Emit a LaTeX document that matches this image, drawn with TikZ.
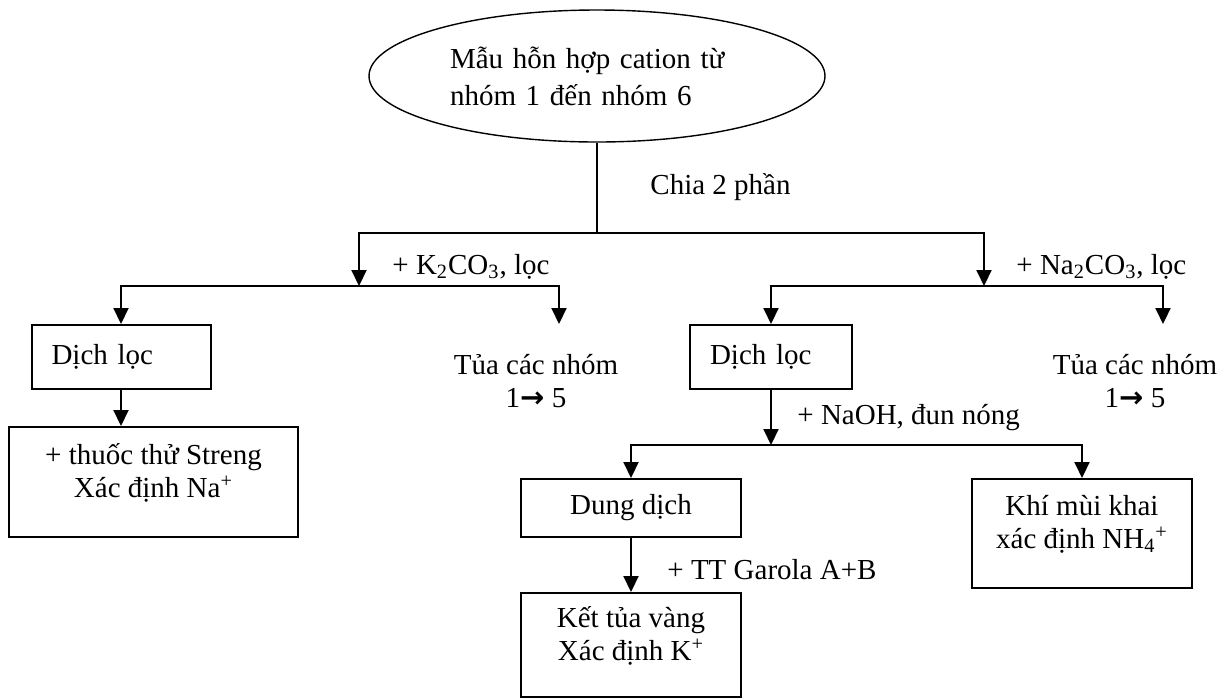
\documentclass[tikz,border=0pt]{standalone}
\usepackage{fontspec}
\setmainfont{Liberation Serif}
\newfontfamily\arrowfont{DejaVu Sans}
\usetikzlibrary{arrows.meta,shapes.geometric}

\begin{document}
\begin{tikzpicture}[
        x=0.5pt, y=-0.5pt,
        every node/.style = {font=\fontsize{14.5}{16.5}\selectfont},
        my box/.style = {
            draw,
            line width=1pt,
            align=center,
            inner sep=0pt},
        my label/.style = {anchor=west, inner sep=0pt},
        my arrow/.style = {
            line width=1pt,
            -{Triangle[length=8pt,width=7.5pt]}}
    ]
    \useasboundingbox (0,0) rectangle (1225,698);
    \node[draw, ellipse, line width=0.7pt, minimum width=228pt, minimum height=66pt,
        text width=147pt, align=left, font=\fontsize{14.5}{18.5}\selectfont]
        (mau) at (597,76) {Mẫu hỗn hợp cation từ\\nhóm 1 đến nhóm 6};
    \coordinate (c0) at (597,233);
    \coordinate (s1) at (359,286);
    \coordinate (s2) at (984,286);
    \draw[line width=1pt] (mau.south) -- (c0);
    \draw[my arrow] (c0) -| (s1);
    \draw[my arrow] (c0) -| (s2);
    \node[my label] (chia) at (650,187) {Chia 2 phần};

    \node[my box, minimum width=89.5pt, minimum height=32pt,
        text width=69.5pt, inner xsep=10pt, align=left] (loc1) at (121,357) {Dịch lọc};
    \coordinate (t1) at (559,324);
    \draw[my arrow] (s1) -| (loc1.north);
    \draw[my arrow] (s1) -| (t1);
    \node[my label] (k2co3) at (392,267) {+ K\textsubscript{2}CO\textsubscript{3}, lọc};
    \node[align=center] (tua1) at (536,381.5) {Tủa các nhóm\\1{\arrowfont\bfseries →} 5};
    \node[my box, minimum width=144.5pt, minimum height=55pt] (streng) at (153.5,482)
        {+ thuốc thử Streng\\Xác định Na\textsuperscript{+}\\[-5pt]\mbox{}};
    \draw[my arrow] (loc1.south) -- (loc1.south |- streng.north);

    \node[my box, minimum width=81pt, minimum height=32pt,
        text width=61pt, inner xsep=10pt, align=left] (loc2) at (771,357) {Dịch lọc};
    \coordinate (t2) at (1163,324);
    \draw[my arrow] (s2) -| (loc2.north);
    \draw[my arrow] (s2) -| (t2);
    \node[my label] (na2co3) at (1016,267) {+ Na\textsubscript{2}CO\textsubscript{3}, lọc};
    \node[align=center] (tua2) at (1135,381.5) {Tủa các nhóm\\1{\arrowfont\bfseries →} 5};

    \coordinate (s3) at (771,445);
    \draw[my arrow] (loc2.south) -- (s3);
    \node[my label] (naoh) at (797,418) {+ NaOH, đun nóng};
    \node[my box, minimum width=110pt, minimum height=29pt] (dd) at (631,508) {Dung dịch};
    \node[my box, minimum width=110pt, minimum height=54.5pt] (khi) at (1082,533.5)
        {Khí mùi khai\\xác định NH\textsubscript{4}\textsuperscript{+}\\[-5pt]\mbox{}};
    \draw[my arrow] (s3) -| (dd.north);
    \draw[my arrow] (s3) -| (khi.north);
    \node[my box, minimum width=110pt, minimum height=52pt] (kt) at (631,645)
        {Kết tủa vàng\\Xác định K\textsuperscript{+}\\[-5pt]\mbox{}};
    \draw[my arrow] (dd.south) -- (kt.north);
    \node[my label] (garola) at (667,570) {+ TT Garola A+B};
\end{tikzpicture}
\end{document}
